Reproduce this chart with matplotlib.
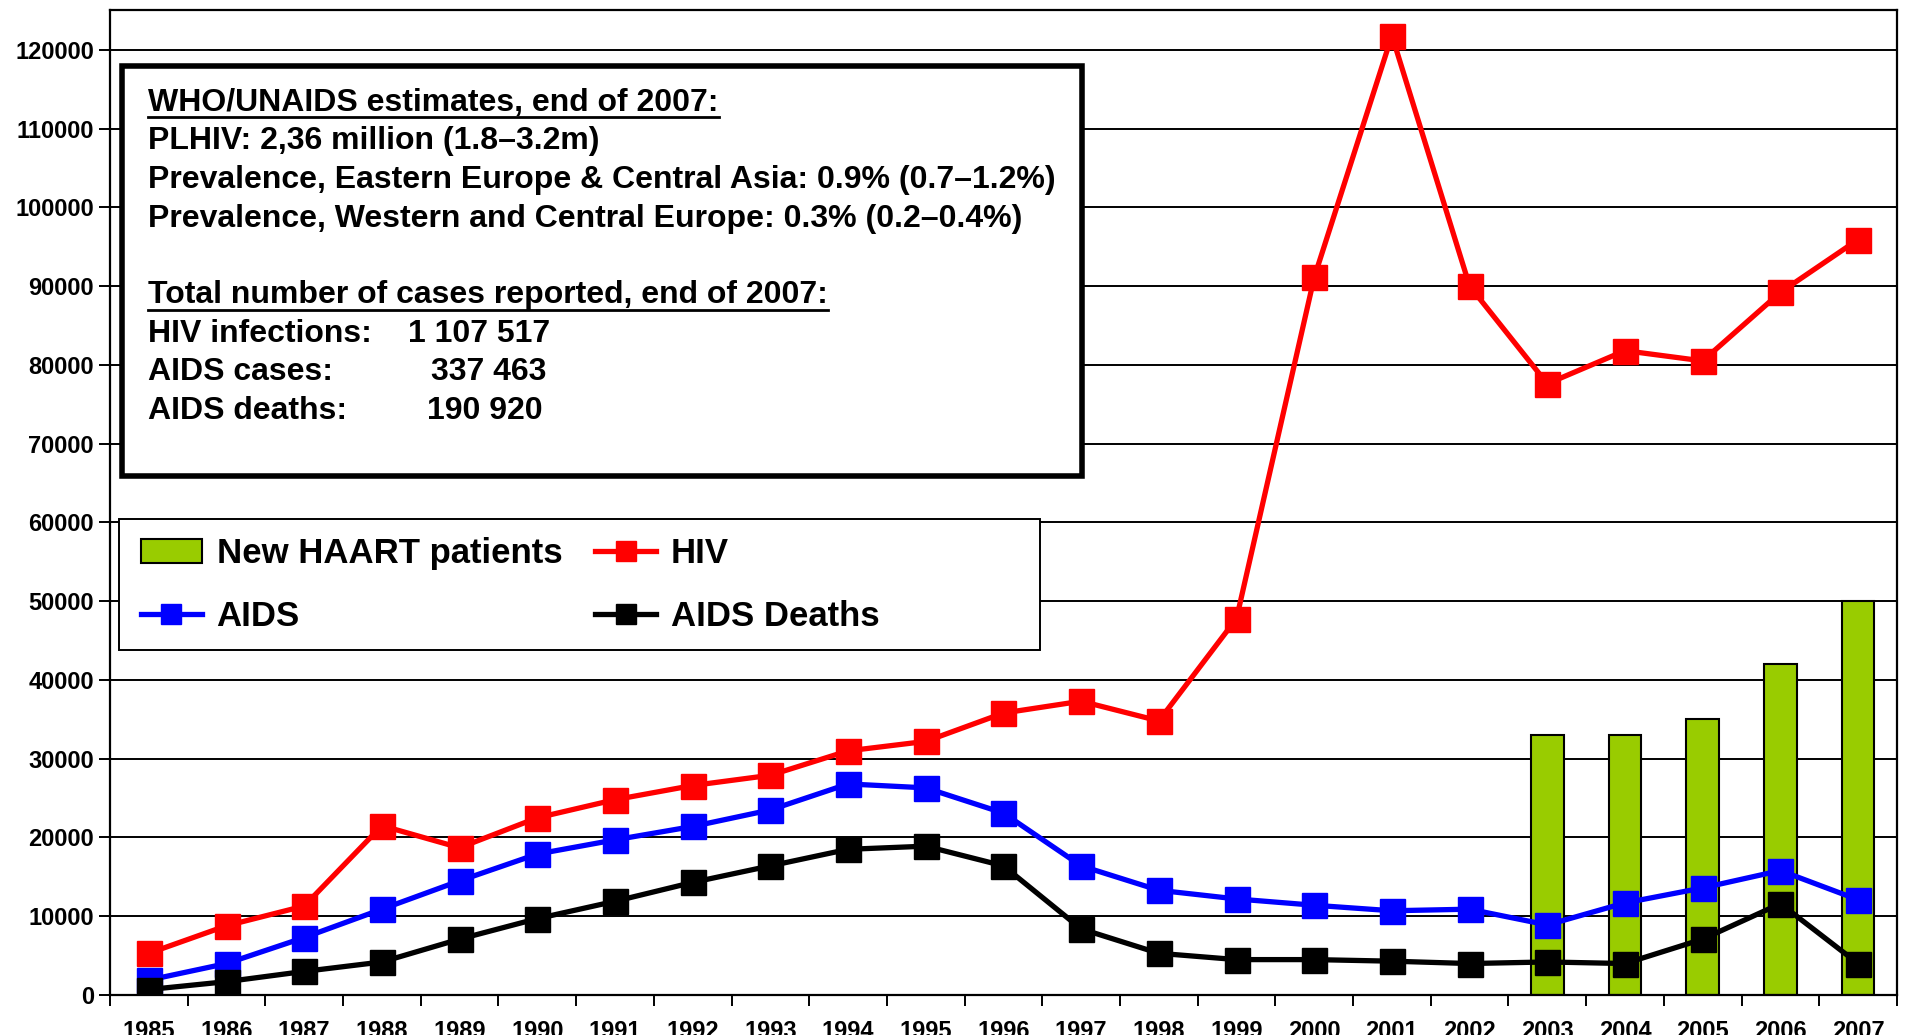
import matplotlib
matplotlib.use('Agg')
import matplotlib.pyplot as plt
from matplotlib.patches import Rectangle
from matplotlib.lines import Line2D

plt.rcParams['font.family'] = ['Liberation Sans', 'DejaVu Sans']
plt.rcParams['font.weight'] = 'bold'

# Datos
years = [str(y) for y in range(1985, 2008)]
hiv = [5300, 8800, 11300, 21500, 18700, 22500, 24800, 26600, 27900, 31000, 32200,
       35800, 37300, 34800, 47800, 91100, 121800, 90000, 77600, 81800, 80500, 89200, 95900]
aids = [1900, 4000, 7300, 10900, 14500, 17900, 19700, 21400, 23500, 26800, 26300,
        23100, 16400, 13300, 12200, 11400, 10700, 10900, 8900, 11700, 13600, 15800, 12100]
deaths = [700, 1700, 3000, 4200, 7100, 9700, 11900, 14300, 16400, 18500, 18900,
          16400, 8400, 5300, 4500, 4500, 4300, 4000, 4200, 4000, 7100, 11600, 4000]
haart_years = ['2003', '2004', '2005', '2006', '2007']
haart = [33000, 33000, 35000, 42000, 50000]

x = list(range(len(years)))
hx = [years.index(y) for y in haart_years]

fig = plt.figure(figsize=(19.19, 10.35), dpi=100)
ax = fig.add_axes([0.0573, 0.0386, 0.9312, 0.9514])

ax.bar(hx, haart, width=0.42, color='#99CC00', edgecolor='black', linewidth=1.5,
       label='New HAART patients', zorder=2)
ax.plot(x, hiv, color='#FF0000', lw=3.8, marker='s', ms=18, label='HIV', zorder=3)
ax.plot(x, aids, color='#0000FF', lw=3.8, marker='s', ms=18, label='AIDS', zorder=3)
ax.plot(x, deaths, color='black', lw=3.8, marker='s', ms=18, label='AIDS Deaths', zorder=4)

ax.set_xlim(-0.5, len(years) - 0.5)
ax.set_ylim(0, 125000)
ax.set_yticks(range(0, 120001, 10000))
ax.yaxis.grid(True, color='black', lw=1.4)
ax.set_axisbelow(True)
ax.tick_params(axis='y', length=8, width=1.4, labelsize=17, direction='out')

ax.set_xticks(x)
ax.set_xticklabels(years)
ax.set_xticks([i - 0.5 for i in range(len(years) + 1)], minor=True)
ax.tick_params(axis='x', which='major', length=0, pad=18, labelsize=17)
ax.tick_params(axis='x', which='minor', length=8, width=1.4, direction='out')
for s in ax.spines.values():
    s.set_linewidth(1.6)

# Cuadro de texto
fig.patches.append(Rectangle((122 / 1919, 1 - 476 / 1035), 960 / 1919, 410 / 1035,
                             transform=fig.transFigure, fill=True, facecolor='white',
                             edgecolor='black', lw=4, zorder=5))
lines = [
    ('WHO/UNAIDS estimates, end of 2007:', True),
    ('PLHIV: 2,36 million (1.8–3.2m)', False),
    ('Prevalence, Eastern Europe & Central Asia: 0.9% (0.7–1.2%)', False),
    ('Prevalence, Western and Central Europe: 0.3% (0.2–0.4%)', False),
    ('', False),
    ('Total number of cases reported, end of 2007:', True),
    ('HIV infections:', False),
    ('AIDS cases:', False),
    ('AIDS deaths:', False),
]
values = {6: ('1 107 517', 408), 7: ('337 463', 431), 8: ('190 920', 427)}
underlined = []
for i, (txt, ul) in enumerate(lines):
    ypx = 103 + i * 38.5
    t = fig.text(148 / 1919, 1 - ypx / 1035, txt, fontsize=23, va='center', ha='left', zorder=6)
    if ul:
        underlined.append(t)
    if i in values:
        v, xp = values[i]
        fig.text(xp / 1919, 1 - ypx / 1035, v, fontsize=23, va='center', ha='left', zorder=6)

# Leyenda
fig.patches.append(Rectangle((119 / 1919, 1 - 650 / 1035), 921 / 1919, 131 / 1035,
                             transform=fig.transFigure, facecolor='white',
                             edgecolor='black', lw=1.4, zorder=5))
handles = [
    Rectangle((0, 0), 1, 1, facecolor='#99CC00', edgecolor='black', lw=1.5),
    Line2D([], [], color='#0000FF', lw=3.8, marker='s', ms=15),
    Line2D([], [], color='#FF0000', lw=3.8, marker='s', ms=15),
    Line2D([], [], color='black', lw=3.8, marker='s', ms=15),
]
labels = ['New HAART patients', 'AIDS', 'HIV', 'AIDS Deaths']
leg = fig.legend(handles, labels, ncol=2, loc='center left',
                 bbox_to_anchor=(119 / 1919, 1 - 585 / 1035),
                 prop={'size': 25, 'weight': 'bold'}, frameon=False,
                 handlelength=1.75, handletextpad=0.43,
                 columnspacing=0.95, labelspacing=0.85, borderpad=0.63, borderaxespad=0)
leg.set_zorder(6)

# Subrayado
fig.canvas.draw()
r = fig.canvas.get_renderer()
for t in underlined:
    bb = t.get_window_extent(r)
    yl = bb.y0 + 1
    fig.add_artist(Line2D([bb.x0 / 1919, bb.x1 / 1919], [yl / 1035, yl / 1035],
                          transform=fig.transFigure, color='black', lw=2, zorder=7))

fig.savefig('out.png', dpi=100)
